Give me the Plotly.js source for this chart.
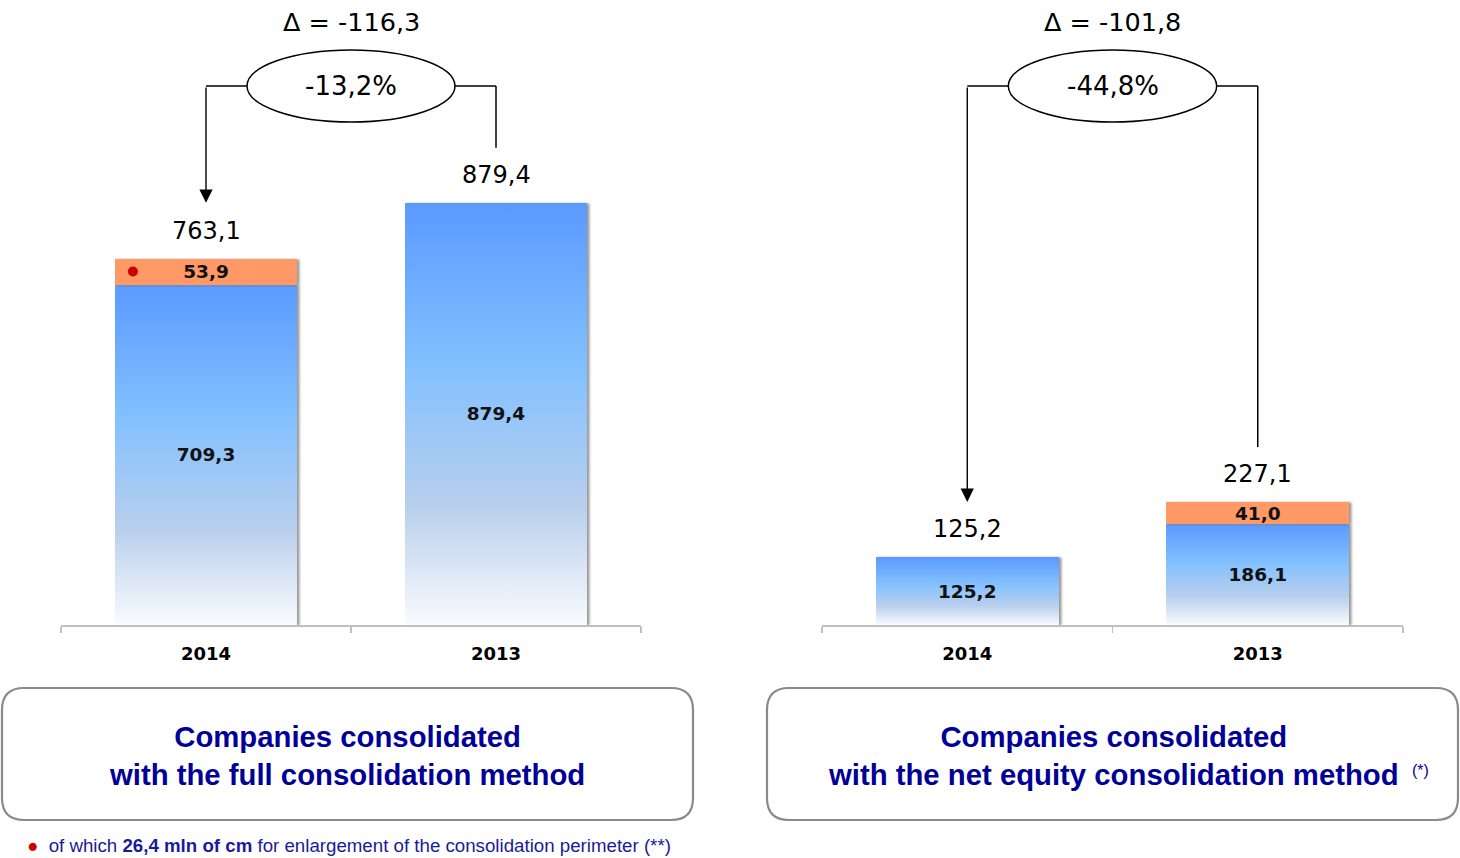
<!DOCTYPE html>
<html>
<head>
<meta charset="utf-8">
<script src="https://cdn.plot.ly/plotly-3.0.1.min.js"></script>
<style>html,body{margin:0;padding:0;background:#fff;}#chart{width:1460px;height:858px;}</style>
</head>
<body>
<svg width="0" height="0" style="position:absolute">
  <defs>
    <linearGradient id="blueGrad" x1="0" y1="0" x2="0" y2="1">
      <stop offset="0" stop-color="#5a9aff"/>
      <stop offset="0.4" stop-color="#84c1ff"/>
      <stop offset="0.72" stop-color="#b9cfec"/>
      <stop offset="1" stop-color="#f9fbfe"/>
    </linearGradient>
    <filter id="barShadow" x="-10%" y="-10%" width="130%" height="120%">
      <feDropShadow dx="2.5" dy="0.5" stdDeviation="1.2" flood-color="#777" flood-opacity="0.75"/>
    </filter>
  </defs>
</svg>
<div id="chart"></div>
<script>
// ---- data ----
const years = ['2014', '2013'];
const fullBase = [709.3, 879.4];
const fullExtra = [53.9, 0];
const fullTotal = [763.1, 879.4];
const equityBase = [125.2, 186.1];
const equityExtra = [0, 41.0];
const equityTotal = [125.2, 227.1];
const fullDelta = 'Δ = -116,3';
const fullPct = '-13,2%';
const equityDelta = 'Δ = -101,8';
const equityPct = '-44,8%';
const fullTitle = 'Companies consolidated<br>with the full consolidation method';
const equityTitle = 'Companies consolidated<br>with the net equity consolidation method';
const footnote = 'of which <b>26,4 mln of cm</b> for enlargement of the consolidation perimeter (**)';

const fmt = v => v.toFixed(1).replace('.', ',');

// ---- geometry helpers (pixels -> data) ----
const W = 1460, H = 858, BASE = 625;
const RL = 1302, RR = 1153;
const yDomain = [(H - BASE) / H, 1];
const pxY = (py, R) => (BASE - py) * R / BASE;
const offY = (v, px, R) => v + px * R / BASE;

const BLUE = '#5a9aff';
const ORANGE = '#ff9966';
const txtFont = 'DejaVu Sans, Verdana, sans-serif';

function barTraces(base, extra, xa, ya) {
  return [
    {type: 'bar', x: years, y: base, xaxis: xa, yaxis: ya, width: 0.63,
     marker: {color: BLUE}, text: base.map(v => v ? fmt(v) : ''),
     textposition: 'inside', insidetextanchor: 'middle',
     textfont: {family: txtFont, size: 18.5, color: '#111', weight: 'bold'},
     hoverinfo: 'skip'},
    {type: 'bar', x: years, y: extra, xaxis: xa, yaxis: ya, width: 0.63,
     marker: {color: ORANGE}, text: extra.map(v => v ? fmt(v) : ''),
     textposition: 'inside', insidetextanchor: 'middle',
     textfont: {family: txtFont, size: 18.5, color: '#111', weight: 'bold'},
     hoverinfo: 'skip'}
  ];
}

const data = [
  ...barTraces(fullBase, fullExtra, 'x', 'y'),
  ...barTraces(equityBase, equityExtra, 'x2', 'y2')
];

const shapes = [];
const annotations = [];

function connector(xa, ya, totals, R, delta, pct) {
  const yH = pxY(86, R);
  const yStart = offY(totals[1], 55, R);
  const tip = totals[1];
  const halfW = 104 / 290;
  const ln = {color: '#000', width: 1.5};
  shapes.push({type: 'line', xref: xa, yref: ya, x0: 1, x1: 1, y0: yStart, y1: yH, line: ln});
  shapes.push({type: 'line', xref: xa, yref: ya, x0: 1, x1: 0.5 + halfW, y0: yH, y1: yH, line: ln});
  shapes.push({type: 'line', xref: xa, yref: ya, x0: 0.5 - halfW, x1: 0, y0: yH, y1: yH, line: ln});
  shapes.push({type: 'circle', xref: xa, yref: ya, x0: 0.5 - halfW, x1: 0.5 + halfW,
               y0: pxY(122, R), y1: pxY(50, R), fillcolor: '#fff', line: ln, layer: 'above'});
  annotations.push({xref: xa, yref: ya, x: 0, y: tip, ax: 0, ay: yH, axref: xa, ayref: ya,
                    text: '', showarrow: true, arrowhead: 2, arrowsize: 1.9, arrowwidth: 1.4,
                    arrowcolor: '#000', standoff: 0});
  annotations.push({xref: xa, yref: ya, x: 0.5, y: yH, text: pct, showarrow: false,
                    font: {family: txtFont, size: 26, color: '#000'}});
  annotations.push({xref: xa, yref: ya, x: 0.5, y: pxY(22, R), text: delta, showarrow: false,
                    font: {family: txtFont, size: 25.5, color: '#000'}});
  totals.forEach((t, i) => {
    annotations.push({xref: xa, yref: ya, x: i, y: t, yshift: 28, text: fmt(t), showarrow: false,
                      font: {family: txtFont, size: 24, color: '#000'}});
  });
}
connector('x', 'y', fullTotal, RL, fullDelta, fullPct);
connector('x2', 'y2', equityTotal, RR, equityDelta, equityPct);

// red dot on the orange segment (left panel)
shapes.push({type: 'circle', xref: 'x', yref: 'y', xsizemode: 'pixel', ysizemode: 'pixel',
             xanchor: -0.252, yanchor: fullBase[0] + fullExtra[0] / 2,
             x0: -5, x1: 5, y0: -5, y1: 5, fillcolor: '#cc0000', line: {width: 0}, layer: 'above'});

// rounded boxes
function roundRect(x0, y0, x1, y1, r) {
  const X = p => (p / W).toFixed(5), Y = p => (1 - p / H).toFixed(5);
  return `M ${X(x0 + r)} ${Y(y0)} L ${X(x1 - r)} ${Y(y0)} Q ${X(x1)} ${Y(y0)} ${X(x1)} ${Y(y0 + r)} ` +
         `L ${X(x1)} ${Y(y1 - r)} Q ${X(x1)} ${Y(y1)} ${X(x1 - r)} ${Y(y1)} ` +
         `L ${X(x0 + r)} ${Y(y1)} Q ${X(x0)} ${Y(y1)} ${X(x0)} ${Y(y1 - r)} ` +
         `L ${X(x0)} ${Y(y0 + r)} Q ${X(x0)} ${Y(y0)} ${X(x0 + r)} ${Y(y0)} Z`;
}
shapes.push({type: 'path', xref: 'paper', yref: 'paper', path: roundRect(2, 688, 693, 820, 22),
             line: {color: '#8a8a8a', width: 2.2}});
shapes.push({type: 'path', xref: 'paper', yref: 'paper', path: roundRect(767, 688, 1458, 820, 22),
             line: {color: '#8a8a8a', width: 2.2}});

const boxFont = {family: 'Liberation Sans, Arial, sans-serif', size: 29.3, color: '#000099', weight: 'bold'};
annotations.push({xref: 'paper', yref: 'paper', x: 347 / W, y: 1 - 755 / H, xanchor: 'center', yanchor: 'middle',
                  text: fullTitle, showarrow: false, font: boxFont, align: 'center'});
annotations.push({xref: 'paper', yref: 'paper', x: 1113 / W, y: 1 - 755 / H, xanchor: 'center', yanchor: 'middle',
                  text: equityTitle, showarrow: false, font: boxFont, align: 'center'});
annotations.push({xref: 'paper', yref: 'paper', x: 1420 / W, y: 1 - 770 / H, xanchor: 'center', yanchor: 'middle',
                  text: '(*)', showarrow: false,
                  font: {family: 'Liberation Sans, Arial, sans-serif', size: 16, color: '#000099'}});
annotations.push({xref: 'paper', yref: 'paper', x: 25 / W, y: 1 - 845 / H, xanchor: 'left', yanchor: 'middle',
                  text: '<span style="color:#cc0000">●</span>  ' + footnote,
                  showarrow: false, font: {family: 'Liberation Sans, Arial, sans-serif', size: 18.7, color: '#1a1a9a'}});

const xaxisBase = {
  type: 'category', categoryorder: 'array', categoryarray: years, range: [-0.5, 1.5],
  showline: true, linecolor: '#c0c0c0', linewidth: 1.5, ticks: 'outside', tickson: 'boundaries',
  ticklen: 6, tickcolor: '#c0c0c0', tickwidth: 1.2, showgrid: false, zeroline: false,
  ticklabelstandoff: 12,
  tickfont: {family: txtFont, size: 18, color: '#000', weight: 'bold'}, fixedrange: true
};
const yaxisBase = {visible: false, showgrid: false, zeroline: false, domain: yDomain, fixedrange: true};

const layout = {
  width: W, height: H, margin: {l: 0, r: 0, t: 0, b: 0},
  paper_bgcolor: '#fff', plot_bgcolor: '#fff', showlegend: false,
  barmode: 'stack',
  uniformtext: {mode: 'show', minsize: 18.5},
  xaxis: Object.assign({}, xaxisBase, {domain: [61 / W, 641 / W], anchor: 'y'}),
  yaxis: Object.assign({}, yaxisBase, {range: [0, RL], anchor: 'x'}),
  xaxis2: Object.assign({}, xaxisBase, {domain: [822 / W, 1403 / W], anchor: 'y2'}),
  yaxis2: Object.assign({}, yaxisBase, {range: [0, RR], anchor: 'x2'}),
  shapes: shapes, annotations: annotations
};

Plotly.newPlot('chart', data, layout, {displayModeBar: false, staticPlot: true}).then(gd => {
  gd.querySelectorAll('.barlayer .point path').forEach(p => {
    const f = (p.style.fill || '').replace(/\s/g, '');
    if (f === 'rgb(90,154,255)') p.style.fill = 'url(#blueGrad)';
    p.style.filter = 'url(#barShadow)';
  });
});
</script>
</body>
</html>
